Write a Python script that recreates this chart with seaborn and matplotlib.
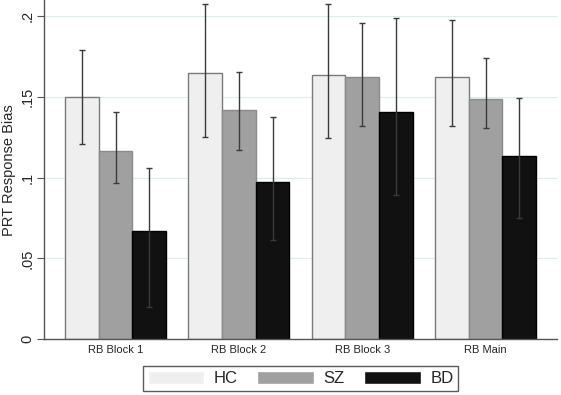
import numpy as np
import pandas as pd
import seaborn as sns
import matplotlib
matplotlib.use("Agg")
import matplotlib.pyplot as plt

blocks = ["RB Block 1", "RB Block 2", "RB Block 3", "RB Main"]
groups = ["HC", "SZ", "BD"]

hc_mean = [0.150, 0.1647, 0.1636, 0.1624]
sz_mean = [0.1166, 0.1416, 0.1622, 0.1488]
bd_mean = [0.0672, 0.0975, 0.1404, 0.1135]

hc_lo = [0.121, 0.1253, 0.1243, 0.1321]
hc_hi = [0.179, 0.2073, 0.2075, 0.1973]
sz_lo = [0.0968, 0.1172, 0.1319, 0.1305]
sz_hi = [0.1407, 0.1655, 0.1956, 0.1741]
bd_lo = [0.0202, 0.0616, 0.0892, 0.0752]
bd_hi = [0.1057, 0.1375, 0.1989, 0.1494]

colors = {"HC": "#efefef", "SZ": "#a0a0a0", "BD": "#111111"}
edges = {"HC": "#7a7a7a", "SZ": "#8a8a8a", "BD": "#000000"}

df = pd.DataFrame({
    "block": blocks * 3,
    "group": ["HC"] * 4 + ["SZ"] * 4 + ["BD"] * 4,
    "bias": hc_mean + sz_mean + bd_mean,
    "lo": hc_lo + sz_lo + bd_lo,
    "hi": hc_hi + sz_hi + bd_hi,
})

sns.set_style("white")
plt.rcParams["font.family"] = ["Liberation Sans", "DejaVu Sans"]

fig = plt.figure(figsize=(5.61, 3.95), dpi=100)
ax = fig.add_axes([0.0784, 0.141, 0.9146, 0.859])

sns.barplot(data=df, x="block", y="bias", hue="group", order=blocks,
            hue_order=groups, palette=colors, width=0.82, errorbar=None,
            saturation=1, ax=ax)

# colour edges per group and add the error bars at each bar centre
for cont, g in zip(ax.containers, groups):
    sub = df[df.group == g].set_index("block").loc[blocks]
    xs = []
    for p in cont.patches:
        p.set_edgecolor(edges[g])
        p.set_linewidth(1.0)
        xs.append(p.get_x() + p.get_width() / 2)
    y = sub["bias"].values
    ax.errorbar(xs, y, yerr=[y - sub["lo"].values, sub["hi"].values - y],
                fmt="none", ecolor="#3a3a3a", elinewidth=1.0, capsize=2.5,
                capthick=1.0, zorder=5)

ax.set_xlim(-0.58, 3.58)
ax.set_ylim(0, 0.2098)
ax.set_yticks([0, 0.05, 0.1, 0.15, 0.2])
ax.set_yticklabels(["0", ".05", ".1", ".15", ".2"], rotation=90, va="center",
                   fontsize=10.5)
ax.tick_params(axis="y", length=5, width=0.8, color="#555555", pad=2,
               left=True)
ax.tick_params(axis="x", length=0, labelsize=8, pad=4)
ax.yaxis.grid(True, color="#deecec", linewidth=0.8)
ax.set_axisbelow(True)
ax.set_xlabel("")
ax.set_ylabel("PRT Response Bias", fontsize=10.5, labelpad=3)

sns.despine(ax=ax, top=True, right=True)
for s in ["left", "bottom"]:
    ax.spines[s].set_color("#555555")
    ax.spines[s].set_linewidth(1.0)

handles, labels = ax.get_legend_handles_labels()
ax.legend(handles, labels, ncol=3, loc="center",
          bbox_to_anchor=(300.5 / 561, (395 - 378.5) / 395),
          bbox_transform=fig.transFigure, fontsize=12, frameon=True,
          fancybox=False, edgecolor="#333333", handlelength=3.4,
          handleheight=0.85, handletextpad=0.55, columnspacing=1.2,
          borderpad=0.3, title=None)
ax.get_legend().get_frame().set_linewidth(1.0)

fig.savefig("out.png", dpi=100)
